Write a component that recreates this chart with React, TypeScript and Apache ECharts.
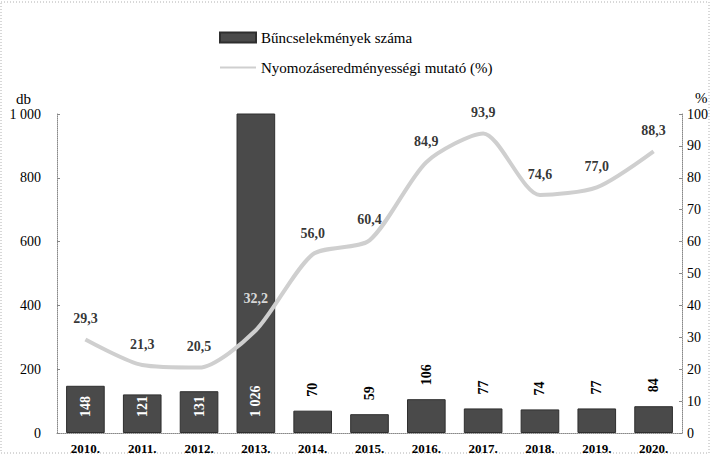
import React, { useEffect, useRef } from "react";
import * as echarts from "echarts";

const years = ["2010.", "2011.", "2012.", "2013.", "2014.", "2015.", "2016.", "2017.", "2018.", "2019.", "2020."];
const crimes = [148, 121, 131, 1026, 70, 59, 106, 77, 74, 77, 84];
const rate = [29.3, 21.3, 20.5, 32.2, 56.0, 60.4, 84.9, 93.9, 74.6, 77.0, 88.3];
const barName = "Bűncselekmények száma";
const lineName = "Nyomozáseredményességi mutató (%)";
const leftAxis = { min: 0, max: 1000, interval: 200, name: "db" };
const rightAxis = { min: 0, max: 100, interval: 10, name: "%" };

const FONT = "'Liberation Serif', 'Times New Roman', serif";

const fmtThousands = (v: number) => String(v).replace(/\B(?=(\d{3})+(?!\d))/g, " ");
const fmtComma = (v: number) => v.toFixed(1).replace(".", ",");

export default function App() {
  const ref = useRef<HTMLDivElement>(null);
  useEffect(() => {
    if (!ref.current) return;
    const chart = echarts.init(ref.current, null, { renderer: "svg" });
    const barData = crimes.map((v) => {
      const inside = v >= 120;
      return {
        value: v,
        label: inside
          ? { position: "insideBottom", distance: 16, color: "#fff" }
          : { position: "top", distance: 14, color: "#000" },
      };
    });
    const labelData = rate.map((v, i) => {
      const barPct = (crimes[i] / leftAxis.max) * rightAxis.max;
      const overBar = barPct > v;
      return {
        value: v,
        label: overBar ? { color: "#fff", distance: 24 } : { color: "#000" },
      };
    });
    chart.setOption({
      animation: false,
      textStyle: { fontFamily: FONT },
      graphic: [
        {
          type: "rect",
          shape: { x: 1, y: 2, width: 708, height: 451 },
          style: { fill: "none", stroke: "#b0b0b0", lineWidth: 1, lineDash: [1, 2] },
          silent: true,
        },
      ],
      legend: {
        orient: "vertical",
        left: 214,
        top: 25,
        itemWidth: 36,
        itemHeight: 10,
        itemGap: 15,
        textStyle: { fontFamily: FONT, fontSize: 15, color: "#000" },
        data: [
          { name: barName, icon: "rect" },
          { name: lineName, itemStyle: { opacity: 0 } },
        ],
      },
      grid: { left: 57, right: 29, top: 114, bottom: 21, containLabel: false },
      xAxis: {
        type: "category",
        data: years,
        axisLine: { lineStyle: { color: "#888", type: "dotted", width: 1 } },
        axisTick: { show: false },
        axisLabel: {
          fontFamily: FONT,
          fontSize: 13,
          fontWeight: "bold",
          color: "#000",
          margin: 9,
        },
      },
      yAxis: [
        {
          type: "value",
          min: leftAxis.min,
          max: leftAxis.max,
          interval: leftAxis.interval,
          name: leftAxis.name,
          nameLocation: "end",
          nameGap: 8,
          nameTextStyle: {
            fontFamily: FONT,
            fontSize: 15,
            color: "#000",
            align: "right",
            padding: [0, 26, 0, 0],
          },
          axisLine: { show: true, lineStyle: { color: "#888", type: "dotted", width: 1 } },
          axisTick: { show: true, inside: true, length: 3, lineStyle: { color: "#888" } },
          splitLine: { show: false },
          axisLabel: {
            fontFamily: FONT,
            fontSize: 14,
            color: "#000",
            margin: 16,
            formatter: (v: number) => fmtThousands(v),
          },
        },
        {
          type: "value",
          min: rightAxis.min,
          max: rightAxis.max,
          interval: rightAxis.interval,
          name: rightAxis.name,
          nameLocation: "end",
          nameGap: 9,
          nameTextStyle: {
            fontFamily: FONT,
            fontSize: 15,
            color: "#000",
            align: "left",
            padding: [0, 0, 0, 13],
          },
          axisLine: { show: true, lineStyle: { color: "#888", type: "dotted", width: 1 } },
          axisTick: { show: true, inside: true, length: 3, lineStyle: { color: "#888" } },
          splitLine: { show: false },
          axisLabel: {
            fontFamily: FONT,
            fontSize: 14,
            color: "#000",
            margin: 5,
          },
        },
      ],
      series: [
        {
          name: barName,
          type: "bar",
          yAxisIndex: 0,
          barWidth: "68%",
          data: barData,
          itemStyle: { color: "#4a4a4a", borderColor: "#2e2e2e", borderWidth: 1 },
          label: {
            show: true,
            rotate: 90,
            align: "left",
            verticalAlign: "middle",
            fontFamily: FONT,
            fontSize: 14,
            fontWeight: "bold",
            formatter: (p: any) => fmtThousands(p.value),
          },
          z: 2,
        },
        {
          name: lineName,
          type: "line",
          yAxisIndex: 1,
          smooth: 0.25,
          symbol: "none",
          data: rate,
          lineStyle: { color: "#cfcfcf", width: 4 },
          itemStyle: { color: "#cfcfcf" },
          z: 3,
        },
        {
          name: "labels",
          type: "scatter",
          yAxisIndex: 1,
          symbol: "circle",
          symbolSize: 2,
          data: labelData,
          itemStyle: { color: "rgba(0,0,0,0)" },
          label: {
            show: true,
            position: "top",
            distance: 13,
            fontFamily: FONT,
            fontSize: 14,
            fontWeight: "bold",
            formatter: (p: any) => fmtComma(p.value),
          },
          z: 4,
        },
      ],
    });
    return () => chart.dispose();
  }, []);
  return (
    <div
      ref={ref}
      style={{ position: "fixed", left: 0, top: 0, width: 711, height: 455, background: "#fff" }}
    />
  );
}
